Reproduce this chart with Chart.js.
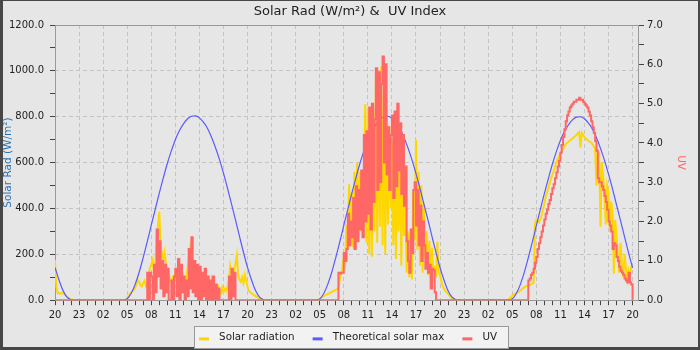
<!DOCTYPE html>
<html>
<head>
<meta charset="utf-8">
<title>Solar Rad &amp; UV Index</title>
<script src="https://cdn.jsdelivr.net/npm/chart.js@4.4.1/dist/chart.umd.min.js"></script>
<style>
  html, body { margin: 0; padding: 0; background: #e6e6e6; }
  #wrap { width: 700px; height: 350px; }
</style>
</head>
<body>
<div id="wrap"><canvas id="solarChart"></canvas></div>
<script>
// x axis is hours since 20:00 on the first evening
const START_HOUR = 20;
const STEP = 1 / 6;        // 10 minute readings
const THEORY_STEP = 0.5;   // theoretical max every half hour

// solar radiation, W/m2 (evening of day 0 from 20:00, then each day from 04:30)
const solarEve = [175, 60, 30, 32, 28, 30, 35, 25, 20, 15, 10, 6, 2, 3, 0];
const solarDay1 = [0, 0, 3,
  8, 18, 28, 35, 40, 45,
  55, 70, 90, 80, 65, 60,
  75, 85, 60, 70, 110, 140,
  155, 175, 120, 150, 260, 330,
  385, 240, 200, 180, 210, 160,
  140, 110, 90, 75, 100, 95,
  120, 90, 130, 70, 110, 60,
  100, 60, 85, 130, 180, 225,
  150, 110, 70, 95, 60, 85,
  55, 80, 45, 70, 50, 90,
  40, 75, 55, 90, 60, 45,
  50, 35, 60, 45, 30, 55,
  35, 50, 40, 60, 80, 150,
  120, 95, 130, 160, 196, 110,
  90, 80, 100, 75, 110, 85,
  60, 40, 35, 30, 25, 22,
  18, 15, 12, 8, 5, 3,
  0];
const solarDay2 = [0, 0, 2,
  5, 10, 14, 18, 21, 24,
  27, 30, 33, 36, 39, 42,
  45, 48, 52, 90, 115, 140,
  190, 160, 330, 220, 505, 300,
  470, 230, 560, 280, 600, 330,
  560, 300, 520, 400, 855, 250,
  840, 200, 700, 190, 820, 300,
  990, 250, 880, 320, 1020, 240,
  900, 200, 850, 330, 760, 400,
  700, 240, 640, 180, 620, 300,
  690, 150, 560, 280, 520, 120,
  300, 100, 260, 90, 480, 260,
  700, 220, 560, 150, 500, 120,
  420, 180, 300, 110, 260, 90,
  230, 80, 150, 100, 255, 120,
  110, 80, 60, 50, 40, 35,
  28, 20, 14, 9, 5, 2,
  0];
const solarDay3 = [2, 8, 12,
  20, 24, 28, 31, 34, 37,
  42, 47, 52, 56, 60, 62,
  64, 66, 70, 73, 75, 335,
  350, 345, 340, 355, 370, 395,
  420, 450, 470, 490, 510, 530,
  548, 565, 585, 600, 615, 628,
  640, 650, 660, 670, 680, 686,
  690, 695, 700, 705, 710, 715,
  720, 728, 733, 665, 730, 720,
  712, 705, 700, 695, 690, 688,
  680, 670, 660, 500, 650, 640,
  320, 600, 540, 450, 330, 500,
  470, 300, 430, 380, 115, 350,
  280, 200, 120, 250, 160, 100,
  200, 140, 90, 130, 110, 145,
  145];

// theoretical solar max, W/m2 (day 0 from 20:00, then each day from 04:30)
const theoryEve = [143, 88, 42, 13, 2, 0];
const theoryDay1 = [0, 6, 30, 70, 123, 187, 255, 327, 397, 467, 533, 596, 651, 700, 739, 768, 790, 802,
  804, 795, 776, 750, 712, 666, 614, 554, 489, 420, 350, 278, 208, 143, 88, 42, 13, 2, 0];
const theoryDay2 = [0, 5, 29, 69, 122, 186, 254, 326, 396, 466, 532, 595, 650, 698, 737, 766, 788, 800,
  802, 793, 774, 748, 710, 664, 612, 552, 487, 418, 349, 277, 207, 142, 87, 41, 13, 2, 0];
const theoryDay3 = [0, 5, 29, 68, 121, 185, 253, 325, 395, 465, 530, 593, 648, 696, 735, 764, 786, 798,
  800, 791, 772, 746, 708, 662, 610, 550, 485, 416, 347, 276, 206, 141];

// UV index (day 0 at 20:00, then each day from 06:50)
const uvEve = [0];
const uvDay1 = [0,
  0, 0, 0, 0.7, 0, 0.7,
  0.6, 0, 0.9, 0.2, 1.8, 0.6,
  1.5, 0.3, 1.0, 0.1, 0.9, 0.2,
  0.8, 0, 0, 0.5, 0, 0.6,
  0.8, 0.1, 1.05, 0, 0.9, 0.2,
  0.6, 0, 0.5, 0.1, 1.3, 0.3,
  1.6, 0.2, 1.0, 0.1, 0.9, 0,
  0.85, 0, 0.7, 0.1, 0.8, 0,
  0.6, 0, 0.5, 0, 0.6, 0,
  0.4, 0, 0.3, 0, 0, 0,
  0, 0, 0, 0, 0.6, 0,
  0.8, 0.1, 0.7, 0, 0, 0,
  0, 0, 0, 0];
const uvDay2 = [0,
  0, 0, 0.7, 0.68, 0.7, 0.7,
  1.2, 1.0, 1.3, 2.2, 1.4, 2.0,
  1.6, 2.6, 1.3, 2.9, 1.5, 2.8,
  1.8, 3.3, 1.6, 4.2, 2.0, 4.3,
  2.2, 4.9, 1.8, 5.0, 2.5, 4.6,
  5.9, 2.8, 5.8, 3.0, 5.5, 6.2,
  3.5, 6.0, 3.2, 4.4, 2.8, 4.2,
  4.7, 2.6, 4.8, 2.9, 5.0, 3.3,
  4.5, 2.7, 4.2, 2.4, 3.4, 1.5,
  1.0, 0.7, 1.8, 1.2, 2.8, 3.0,
  1.9, 2.8, 1.4, 2.4, 1.0, 2.0,
  1.4, 0.8, 1.2, 0.7, 0.9, 0.3,
  0.8, 0.76, 0.2, 0];
const uvDay3 = [0,
  0.5, 0.55, 0.65, 0.7, 0.8, 0.95,
  1.1, 1.3, 1.45, 1.6, 1.75, 1.9,
  2.05, 2.2, 2.3, 2.45, 2.55, 2.7,
  2.85, 2.95, 3.1, 3.25, 3.4, 3.55,
  3.75, 3.95, 4.15, 4.35, 4.55, 4.7,
  4.8, 4.9, 4.95, 5.0, 5.05, 5.05,
  5.1, 5.1, 5.15, 5.1, 5.1, 5.05,
  5.0, 4.95, 4.9, 4.8, 4.7, 4.55,
  4.4, 4.25, 4.05, 3.8, 3.1, 3.0,
  3.0, 2.9, 2.8, 2.65, 2.5, 2.3,
  2.0, 1.9, 1.75, 1.3, 1.45, 1.4,
  1.1, 1.0, 0.85, 0.75, 0.7, 0.65,
  0.55, 0.5, 0.45, 0.7, 0.45, 0.4,
  0];

const SOLAR_COLOR = '#ffd700';
const THEORY_COLOR = '#5a5aff';
const UV_COLOR = '#f66';

// turn [day, first reading hour, values] blocks into {x, y} points
function toPoints(blocks, step) {
    return blocks.flatMap(function(block) {
        const day = block[0], from = block[1], values = block[2];
        return values.map(function(y, i) {
            return {x: day * 24 + from - START_HOUR + i * step, y: y};
        });
    });
}

// short line used as the legend symbol (drawn in the middle of a wider box)
function legendMark(color) {
    const c = document.createElement('canvas');
    c.width = 25;
    c.height = 11;
    const g = c.getContext('2d');
    g.fillStyle = color;
    g.fillRect(10, 6, 10, 3);
    return c;
}

const framePlugin = {
    id: 'frame',
    afterLayout(chart) {
        // the symbol box has 10px of blank lead, pull the row back so it looks centred
        chart.legend.left -= 7;
        chart.legend.right -= 7;
    },
    beforeDraw(chart) {
        const ctx = chart.ctx;
        ctx.save();
        ctx.fillStyle = '#474747';
        ctx.fillRect(0, 0, chart.width, chart.height);
        ctx.fillStyle = '#e6e6e6';
        ctx.fillRect(3, 1, chart.width - 5, chart.height - 4);

        const boxes = chart.legend.legendHitBoxes;
        if (boxes && boxes.length) {
            const first = boxes[0], last = boxes[boxes.length - 1];
            const mid = first.top + first.height / 2;
            const left = Math.round(first.left + 5) + 0.5;
            const right = Math.round(last.left + last.width + 11) + 0.5;
            const top = Math.round(mid - 11) + 0.5;
            ctx.fillStyle = '#f2f2f2';
            ctx.fillRect(left, top, right - left, 22);
            ctx.strokeStyle = '#999';
            ctx.lineWidth = 1;
            ctx.strokeRect(left, top, right - left, 22);
        }
        ctx.restore();
    },
    beforeDatasetsDraw(chart) {
        const a = chart.chartArea, ctx = chart.ctx;
        ctx.save();
        ctx.strokeStyle = '#999';
        ctx.lineWidth = 1;
        const l = Math.round(a.left) + 0.5, t = Math.round(a.top) + 0.5;
        const r = Math.round(a.right) - 0.5, b = Math.round(a.bottom) + 0.5;
        ctx.strokeRect(l, t, r - l, b - t);
        ctx.restore();
    }
};

Chart.defaults.font.family = 'DejaVu Sans';
Chart.defaults.color = '#222';

const tickFont = {size: 10};
const gridDash = [4, 3];

new Chart(document.getElementById('solarChart'), {
    type: 'line',
    data: {
        datasets: [
            {
                label: 'Solar radiation',
                data: toPoints([[0, 20, solarEve], [1, 4.5, solarDay1], [2, 4.5, solarDay2], [3, 4.5, solarDay3]], STEP),
                borderColor: SOLAR_COLOR,
                backgroundColor: SOLAR_COLOR,
                borderWidth: 2,
                pointRadius: 0,
                pointStyle: legendMark(SOLAR_COLOR),
                yAxisID: 'y',
                order: 2
            },
            {
                label: 'Theoretical solar max',
                data: toPoints([[0, 20, theoryEve], [1, 4.5, theoryDay1], [2, 4.5, theoryDay2], [3, 4.5, theoryDay3]], THEORY_STEP),
                borderColor: THEORY_COLOR,
                backgroundColor: THEORY_COLOR,
                borderWidth: 1.2,
                pointRadius: 0,
                pointStyle: legendMark(THEORY_COLOR),
                cubicInterpolationMode: 'monotone',
                yAxisID: 'y',
                order: 1
            },
            {
                label: 'UV',
                data: toPoints([[0, 20, uvEve], [1, 6 + 5 / 6, uvDay1], [2, 6 + 5 / 6, uvDay2], [3, 6 + 5 / 6, uvDay3]], STEP),
                borderColor: UV_COLOR,
                backgroundColor: UV_COLOR,
                borderWidth: 2,
                stepped: true,
                pointRadius: 0,
                pointStyle: legendMark(UV_COLOR),
                yAxisID: 'y1',
                order: 0
            }
        ]
    },
    options: {
        responsive: true,
        maintainAspectRatio: false,
        animation: false,
        devicePixelRatio: 1,
        events: [],
        layout: {padding: {left: 0, right: 0, top: 0, bottom: -2}},
        plugins: {
            title: {
                display: true,
                text: 'Solar Rad (W/m²) &  UV Index',
                color: '#222',
                font: {size: 13, weight: 'normal'},
                padding: {top: 4, bottom: 5.4}
            },
            legend: {
                position: 'bottom',
                labels: {
                    usePointStyle: true,
                    pointStyleWidth: 25,
                    padding: 8,
                    color: '#222',
                    font: {size: 10.3},
                    sort: function(a, b) { return a.datasetIndex - b.datasetIndex; }
                }
            },
            tooltip: {enabled: false}
        },
        scales: {
            x: {
                type: 'linear',
                min: 0,
                max: 72.8,
                afterFit: function(scale) { scale.height = 23.5; },
                border: {display: false, dash: gridDash},
                grid: {
                    color: function(c) { return Math.round(c.tick.value) % 3 === 0 ? '#c4c4c4' : 'transparent'; },
                    tickColor: '#444',
                    tickLength: 5
                },
                ticks: {
                    stepSize: 1,
                    autoSkip: false,
                    includeBounds: false,
                    maxRotation: 0,
                    minRotation: 0,
                    padding: 4,
                    font: tickFont,
                    callback: function(v) {
                        const h = Math.round(v);
                        return h % 3 === 0 ? String((START_HOUR + h) % 24).padStart(2, '0') : '';
                    }
                }
            },
            y: {
                position: 'left',
                min: 0,
                max: 1200,
                afterFit: function(scale) { scale.width = 55; },
                border: {display: false, dash: gridDash},
                grid: {
                    color: function(c) { return c.tick.value % 200 === 0 ? '#c4c4c4' : 'transparent'; },
                    tickColor: '#444',
                    tickLength: 5
                },
                ticks: {
                    stepSize: 100,
                    padding: 6,
                    font: tickFont,
                    callback: function(v) { return v % 200 === 0 ? v.toFixed(1) : ''; }
                },
                title: {
                    display: true,
                    text: 'Solar Rad (W/m²)',
                    color: '#2a72b5',
                    font: {size: 10.5},
                    padding: {top: 2, bottom: 0}
                }
            },
            y1: {
                position: 'right',
                min: 0,
                max: 7,
                afterFit: function(scale) { scale.width = 61; },
                border: {display: false},
                grid: {
                    drawOnChartArea: false,
                    color: '#444',
                    tickColor: '#444',
                    tickLength: 5
                },
                ticks: {
                    stepSize: 0.5,
                    padding: 3,
                    font: tickFont,
                    callback: function(v) { return Number.isInteger(v) ? v.toFixed(1) : ''; }
                },
                title: {
                    display: true,
                    text: 'UV',
                    color: UV_COLOR,
                    font: {size: 10.5},
                    padding: {top: 13, bottom: 0}
                }
            }
        }
    },
    plugins: [framePlugin]
});
</script>
</body>
</html>
